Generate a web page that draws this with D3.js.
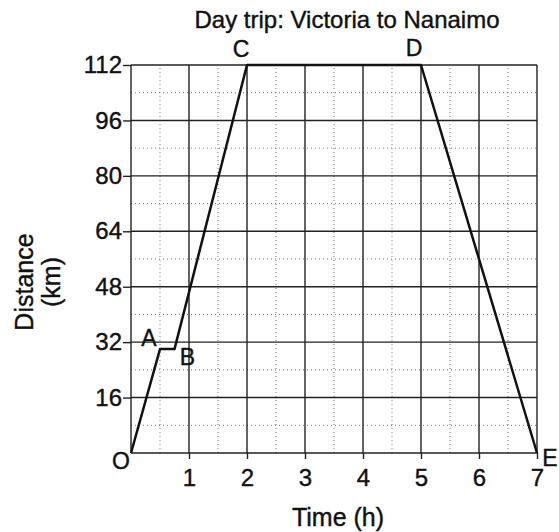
<!DOCTYPE html>
<html lang="en">
<head>
<meta charset="utf-8">
<script src="https://d3js.org/d3.v7.min.js"></script>
<style>
  body { margin: 0; background: #fff; }
  text { font-family: "Liberation Sans", Arial, sans-serif; fill: #111; stroke: #111; stroke-width: 0.4px; }
</style>
</head>
<body>
<script>
// data
var times = [0, 0.5, 0.75, 2, 5, 7];
var distances = [0, 30, 30, 112, 112, 0];
var pointNames = ["O", "A", "B", "C", "D", "E"];
var xTicks = [1, 2, 3, 4, 5, 6, 7];
var yTicks = [16, 32, 48, 64, 80, 96, 112];

var width = 559, height = 532;
var x = d3.scaleLinear().domain([0, 7]).range([131, 537]);
var y = d3.scaleLinear().domain([0, 112]).range([453, 65]);

var svg = d3.select("body").append("svg")
    .attr("width", width)
    .attr("height", height);

// minor dotted grid (half hours, 8 km)
var minorX = d3.range(0.5, 7, 1);
var minorY = d3.range(8, 112, 16);
svg.append("g").selectAll("line").data(minorX).enter().append("line")
    .attr("x1", d => x(d)).attr("x2", d => x(d))
    .attr("y1", y(0)).attr("y2", y(112))
    .attr("stroke", "#777").attr("stroke-width", 1)
    .attr("stroke-dasharray", "1,3");
svg.append("g").selectAll("line").data(minorY).enter().append("line")
    .attr("x1", x(0)).attr("x2", x(7))
    .attr("y1", d => y(d)).attr("y2", d => y(d))
    .attr("stroke", "#777").attr("stroke-width", 1)
    .attr("stroke-dasharray", "1,3");

// major grid
svg.append("g").selectAll("line").data(d3.range(0, 8)).enter().append("line")
    .attr("x1", d => x(d)).attr("x2", d => x(d))
    .attr("y1", y(0)).attr("y2", y(112))
    .attr("stroke", "#222").attr("stroke-width", 1.4);
svg.append("g").selectAll("line").data([0].concat(yTicks)).enter().append("line")
    .attr("x1", x(0)).attr("x2", x(7))
    .attr("y1", d => y(d)).attr("y2", d => y(d))
    .attr("stroke", "#222").attr("stroke-width", 1.4);

// axes
var yAxis = d3.axisLeft(y).tickValues(yTicks).tickSize(8).tickPadding(1);
var gy = svg.append("g").attr("transform", "translate(" + x(0) + ",0)").call(yAxis);
gy.select(".domain").remove();
gy.selectAll("text").attr("font-size", 24).attr("font-family", null).attr("fill", "#111");
gy.selectAll("line").attr("stroke", "#222").attr("stroke-width", 1.4);

var xAxis = d3.axisBottom(x).tickValues(xTicks).tickFormat(d3.format("d")).tickSize(6).tickPadding(1);
var gx = svg.append("g").attr("transform", "translate(0," + y(0) + ")").call(xAxis);
gx.select(".domain").remove();
gx.selectAll("text").attr("font-size", 24).attr("font-family", null).attr("fill", "#111")
    .attr("dy", null).attr("y", 33);
gx.selectAll("line").attr("stroke", "#222").attr("stroke-width", 1.4);

// trip line
var pts = times.map((t, i) => [t, distances[i]]);
svg.append("path")
    .attr("d", d3.line().x(d => x(d[0])).y(d => y(d[1]))(pts))
    .attr("fill", "none").attr("stroke", "#111").attr("stroke-width", 2.5)
    .attr("stroke-linejoin", "round");

// point letters
var offsets = [[-10, 16], [-11, -3], [13, 16], [-6, -8], [-7, -9], [13, 13]];
svg.append("g").selectAll("text").data(pts).enter().append("text")
    .attr("x", (d, i) => x(d[0]) + offsets[i][0])
    .attr("y", (d, i) => y(d[1]) + offsets[i][1])
    .attr("text-anchor", "middle")
    .attr("font-size", 23)
    .text((d, i) => pointNames[i]);

// titles
svg.append("text")
    .attr("x", 347).attr("y", 28)
    .attr("text-anchor", "middle").attr("font-size", 24)
    .text("Day trip: Victoria to Nanaimo");

svg.append("text")
    .attr("x", 338).attr("y", 526)
    .attr("text-anchor", "middle").attr("font-size", 25)
    .text("Time (h)");

var ylab = svg.append("text")
    .attr("transform", "translate(33,282) rotate(-90)")
    .attr("text-anchor", "middle").attr("font-size", 25);
ylab.append("tspan").attr("x", 0).attr("dy", 0).text("Distance");
ylab.append("tspan").attr("x", 0).attr("dy", 27).text("(km)");
</script>
</body>
</html>
